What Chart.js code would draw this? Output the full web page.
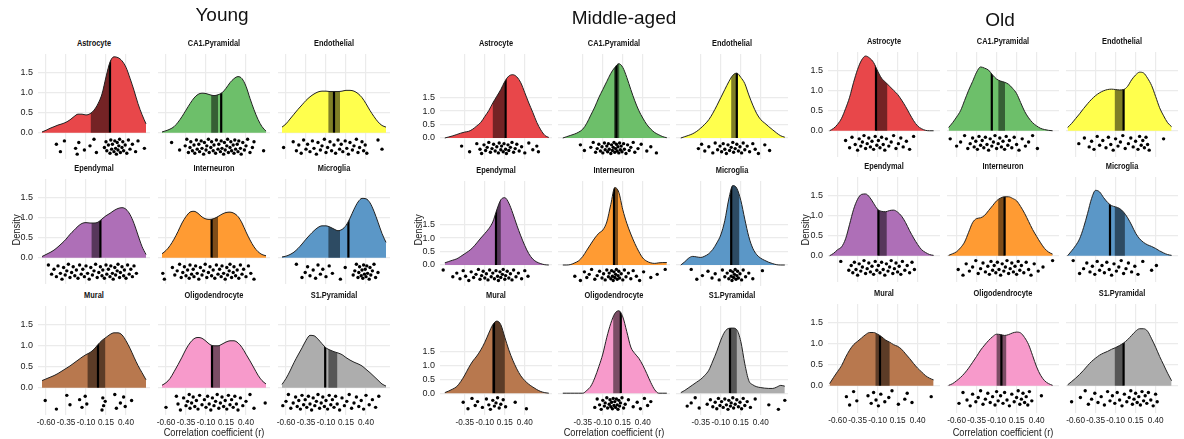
<!DOCTYPE html>
<html>
<head>
<meta charset="utf-8">
<script src="https://cdn.jsdelivr.net/npm/chart.js@4.4.0/dist/chart.umd.min.js"></script>
<style>
  body { margin: 0; background: #fff; width: 1184px; height: 439px; overflow: hidden; position: relative;
         font-family: 'Liberation Sans', Arial, sans-serif; }
  canvas { position: absolute; }
  .strip { position: absolute; width: 112px; text-align: center; line-height: 12px; color: #111;
           font: bold 9.5px 'Liberation Sans', Arial, sans-serif; transform: scaleX(0.78); }
  .group { position: absolute; font-size: 19px; line-height: 22px; color: #111; transform: translate(-50%, -50%); white-space: nowrap; }
  .xtitle { position: absolute; font-size: 11.5px; line-height: 12px; color: #1a1a1a; transform: translate(-50%, -50%) scaleX(0.8); white-space: nowrap; }
  .ytitle { position: absolute; font-size: 11px; line-height: 12px; color: #1a1a1a; transform: translate(-50%, -50%) rotate(-90deg) scaleX(0.85); white-space: nowrap; }
</style>
</head>
<body>
<script>
// ---- data ----
const GROUPS = ['Young', 'Middle-aged', 'Old'];
const CELL_TYPES = ['Astrocyte', 'CA1.Pyramidal', 'Endothelial', 'Ependymal', 'Interneuron',
                    'Microglia', 'Mural', 'Oligodendrocyte', 'S1.Pyramidal'];
const CELL_COLORS = ['#E8474A', '#6DBF6A', '#FFFF4D', '#AE6FB7', '#FF9B33',
                     '#5B97C7', '#B8784E', '#F79ACB', '#ADADAD'];

const Y_TICKS = [0, 0.5, 1.0, 1.5];
const X_TICKS_YOUNG = [-0.60, -0.35, -0.10, 0.15, 0.40];
const X_TICKS_MIDDLE = [-0.35, -0.10, 0.15, 0.40];
const X_TICKS_OLD = [-0.60, -0.35, -0.10, 0.15, 0.40];

// x positions where the density curves were read
const X_GRID_YOUNG = [-0.65, -0.60, -0.55, -0.50, -0.45, -0.40, -0.35, -0.30, -0.25, -0.20, -0.15, -0.10, -0.05,
                      0.00, 0.05, 0.10, 0.15, 0.20, 0.25, 0.30, 0.35, 0.40, 0.45, 0.50, 0.55, 0.60, 0.65];
const X_GRID_MIDDLE = [-0.60, -0.55, -0.50, -0.45, -0.40, -0.35, -0.30, -0.25, -0.20, -0.15, -0.10, -0.05, 0.00,
                       0.05, 0.10, 0.15, 0.20, 0.25, 0.30, 0.35, 0.40, 0.45, 0.50, 0.55, 0.60, 0.65, 0.70];
const X_GRID_OLD = [-0.70, -0.65, -0.60, -0.55, -0.50, -0.45, -0.40, -0.35, -0.30, -0.25, -0.20, -0.15, -0.10,
                    -0.05, 0.00, 0.05, 0.10, 0.15, 0.20, 0.25, 0.30, 0.35, 0.40, 0.45, 0.50, 0.55, 0.60];

const DENS_YOUNG = [
  [0.02,0.06,0.11,0.15,0.19,0.22,0.26,0.32,0.40,0.46,0.46,0.44,0.47,0.56,0.72,0.96,1.38,1.75,1.88,1.86,1.78,1.62,1.35,1.05,0.72,0.45,0.22],
  [0.02,0.05,0.09,0.15,0.26,0.40,0.56,0.72,0.86,0.95,0.98,0.97,0.94,0.92,0.94,0.99,1.10,1.24,1.34,1.39,1.34,1.15,0.85,0.57,0.33,0.15,0.04],
  [0.14,0.22,0.34,0.46,0.58,0.69,0.80,0.89,0.96,1.01,1.03,1.03,1.02,1.02,1.02,1.03,1.05,1.05,1.03,0.97,0.87,0.72,0.55,0.40,0.27,0.18,0.14],
  [0.03,0.08,0.13,0.19,0.27,0.36,0.46,0.58,0.68,0.78,0.85,0.87,0.86,0.86,0.88,0.96,1.04,1.10,1.17,1.22,1.24,1.20,1.07,0.85,0.56,0.28,0.08],
  [0.10,0.18,0.30,0.46,0.65,0.86,1.02,1.13,1.15,1.10,1.01,0.96,0.95,0.97,1.02,1.08,1.12,1.13,1.10,1.02,0.86,0.64,0.44,0.27,0.15,0.08,0.05],
  [0.02,0.04,0.08,0.14,0.23,0.34,0.46,0.57,0.67,0.75,0.79,0.79,0.76,0.71,0.67,0.70,0.80,0.98,1.20,1.38,1.47,1.46,1.36,1.15,0.88,0.60,0.38],
  [0.17,0.21,0.25,0.29,0.34,0.40,0.46,0.52,0.59,0.66,0.73,0.79,0.84,0.92,1.03,1.13,1.20,1.27,1.31,1.31,1.26,1.12,0.94,0.73,0.53,0.36,0.19],
  [0.06,0.12,0.22,0.38,0.55,0.73,0.92,1.07,1.17,1.20,1.18,1.11,1.03,1.00,1.00,1.04,1.09,1.12,1.12,1.07,0.96,0.80,0.64,0.47,0.30,0.17,0.09],
  [0.08,0.22,0.40,0.60,0.78,0.95,1.13,1.25,1.24,1.16,1.05,0.95,0.90,0.86,0.83,0.79,0.72,0.66,0.61,0.57,0.52,0.44,0.36,0.27,0.18,0.09,0.04]
];
const DENS_MIDDLE = [
  [0.00,0.04,0.08,0.13,0.18,0.22,0.25,0.33,0.45,0.58,0.80,1.02,1.30,1.55,1.80,2.10,2.30,2.35,2.27,2.05,1.68,1.30,0.95,0.58,0.30,0.10,0.02],
  [0.00,0.05,0.10,0.15,0.22,0.33,0.55,0.85,1.15,1.50,1.80,2.10,2.40,2.62,2.76,2.62,2.25,1.80,1.38,1.02,0.74,0.50,0.33,0.20,0.12,0.05,0.01],
  [0.00,0.05,0.10,0.16,0.25,0.37,0.51,0.68,0.92,1.20,1.50,1.80,2.09,2.33,2.41,2.25,2.02,1.60,1.22,0.90,0.68,0.55,0.42,0.30,0.18,0.08,0.03],
  [0.08,0.13,0.18,0.23,0.32,0.42,0.52,0.65,0.82,1.00,1.17,1.35,1.60,2.05,2.42,2.50,2.30,1.92,1.48,1.08,0.72,0.42,0.22,0.11,0.05,0.01,0.00],
  [0.00,0.00,0.02,0.08,0.16,0.32,0.55,0.78,1.00,1.18,1.30,1.60,2.25,2.88,2.70,2.05,1.55,1.15,0.80,0.50,0.26,0.14,0.08,0.06,0.08,0.09,0.09],
  [0.00,0.12,0.26,0.32,0.30,0.28,0.33,0.42,0.58,0.82,1.12,1.65,2.45,2.95,2.85,2.40,1.70,1.05,0.62,0.38,0.25,0.17,0.10,0.05,0.01,0.00,0.00],
  [0.02,0.08,0.15,0.24,0.42,0.65,0.92,1.15,1.33,1.55,1.82,2.15,2.45,2.58,2.45,2.00,1.55,1.18,0.87,0.62,0.45,0.32,0.22,0.13,0.06,0.02,0.00],
  [0.00,0.00,0.00,0.00,0.00,0.00,0.10,0.25,0.55,0.95,1.40,2.00,2.50,2.85,2.95,2.73,2.20,1.65,1.42,1.25,1.00,0.70,0.38,0.12,0.00,0.00,0.00],
  [0.02,0.10,0.20,0.30,0.40,0.50,0.64,0.82,1.15,1.50,1.90,2.20,2.32,2.33,2.27,1.85,1.05,0.45,0.30,0.23,0.20,0.18,0.17,0.17,0.22,0.28,0.25]
];
const DENS_OLD = [
  [0.00,0.06,0.16,0.31,0.55,0.83,1.20,1.52,1.75,1.85,1.80,1.69,1.48,1.30,1.20,1.10,1.00,0.90,0.76,0.60,0.42,0.25,0.12,0.05,0.01,0.00,0.00],
  [0.08,0.20,0.34,0.50,0.75,1.00,1.22,1.45,1.58,1.55,1.50,1.38,1.28,1.23,1.20,1.15,1.05,0.92,0.70,0.48,0.32,0.20,0.12,0.06,0.03,0.01,0.00],
  [0.08,0.18,0.30,0.42,0.55,0.67,0.78,0.87,0.94,0.99,1.02,1.03,1.02,1.01,1.02,1.10,1.26,1.38,1.45,1.43,1.30,1.12,0.85,0.57,0.37,0.20,0.10],
  [0.00,0.06,0.15,0.22,0.42,0.78,1.15,1.40,1.52,1.53,1.45,1.30,1.15,1.10,1.09,1.12,1.13,1.08,0.98,0.82,0.62,0.44,0.28,0.15,0.08,0.03,0.01],
  [0.01,0.05,0.10,0.20,0.34,0.58,0.82,0.92,0.94,1.00,1.12,1.24,1.36,1.43,1.46,1.46,1.42,1.36,1.22,1.05,0.85,0.65,0.48,0.32,0.18,0.09,0.04],
  [0.00,0.12,0.25,0.42,0.70,1.05,1.42,1.62,1.58,1.44,1.32,1.24,1.21,1.17,1.08,0.94,0.76,0.56,0.42,0.33,0.27,0.23,0.18,0.12,0.07,0.03,0.01],
  [0.05,0.20,0.34,0.48,0.68,0.85,0.98,1.06,1.14,1.22,1.27,1.27,1.23,1.17,1.09,1.04,0.98,0.94,0.87,0.76,0.65,0.53,0.42,0.33,0.24,0.18,0.14],
  [0.01,0.05,0.12,0.20,0.30,0.42,0.56,0.70,0.85,0.97,1.08,1.17,1.23,1.22,1.20,1.22,1.26,1.28,1.26,1.15,0.98,0.72,0.45,0.25,0.12,0.05,0.01],
  [0.02,0.10,0.18,0.27,0.37,0.48,0.58,0.66,0.73,0.78,0.82,0.87,0.91,0.96,1.02,1.10,1.20,1.30,1.36,1.36,1.30,1.12,0.92,0.70,0.50,0.30,0.12]
];

// vertical line (median) and darker interval band
const MEDIAN_YOUNG = [0.20, 0.09, 0.00, 0.08, -0.03, 0.18, 0.05, -0.025, -0.11];
const CI_LO_YOUNG = [-0.04, -0.035, -0.07, -0.03, -0.03, -0.07, -0.08, -0.02, -0.07];
const CI_HI_YOUNG = [0.19, 0.05, 0.075, 0.075, 0.05, 0.075, 0.14, 0.075, 0.04];
const MEDIAN_MIDDLE = [0.16, 0.07, 0.10, 0.04, 0.04, 0.03, 0.015, 0.125, 0.015];
const CI_LO_MIDDLE = [0.00, 0.04, 0.03, 0.04, 0.03, 0.03, -0.01, 0.03, 0.015];
const CI_HI_MIDDLE = [0.15, 0.105, 0.11, 0.10, 0.09, 0.13, 0.15, 0.125, 0.10];
const MEDIAN_OLD = [-0.12, -0.16, 0.00, -0.09, 0.00, -0.17, -0.07, -0.04, 0.00];
const CI_LO_OLD = [-0.124, -0.078, -0.11, -0.09, -0.08, -0.11, -0.126, -0.10, -0.11];
const CI_HI_OLD = [0.02, 0.005, 0.00, 0.014, 0.00, 0.016, 0.05, 0.02, 0.00];

// individual correlation coefficients (dots under each curve)
const POINTS_YOUNG = [
  [-0.47,-0.42,-0.37,-0.23,-0.21,-0.19,-0.12,-0.05,0.0,0.03,0.13,0.15,0.16,0.18,0.2,0.21,0.22,0.23,0.25,0.26,0.27,0.28,0.29,0.3,0.31,0.32,0.33,0.35,0.36,0.37,0.39,0.41,0.43,0.45,0.48,0.52,0.55,0.63],
  [-0.53,-0.43,-0.36,-0.34,-0.32,-0.3,-0.29,-0.27,-0.25,-0.24,-0.22,-0.21,-0.19,-0.18,-0.16,-0.15,-0.13,-0.12,-0.1,-0.09,-0.07,-0.06,-0.04,-0.03,-0.01,0.0,0.02,0.03,0.05,0.06,0.08,0.09,0.1,0.12,0.13,0.14,0.16,0.17,0.18,0.2,0.21,0.22,0.24,0.25,0.26,0.27,0.29,0.3,0.31,0.33,0.34,0.36,0.38,0.4,0.42,0.45,0.48,0.5,0.62],
  [-0.63,-0.51,-0.47,-0.44,-0.41,-0.38,-0.35,-0.33,-0.3,-0.27,-0.25,-0.22,-0.2,-0.17,-0.15,-0.12,-0.1,-0.08,-0.05,-0.03,0.0,0.02,0.05,0.07,0.09,0.11,0.14,0.16,0.18,0.2,0.23,0.25,0.28,0.3,0.32,0.35,0.37,0.39,0.41,0.55,0.6],
  [-0.57,-0.53,-0.5,-0.47,-0.45,-0.42,-0.4,-0.38,-0.36,-0.34,-0.32,-0.3,-0.28,-0.26,-0.24,-0.22,-0.2,-0.18,-0.16,-0.14,-0.12,-0.1,-0.08,-0.06,-0.04,-0.02,0.0,0.02,0.04,0.06,0.08,0.1,0.11,0.13,0.15,0.16,0.18,0.2,0.21,0.23,0.24,0.26,0.27,0.29,0.3,0.32,0.33,0.35,0.37,0.38,0.4,0.42,0.44,0.46,0.48,0.5,0.53],
  [-0.64,-0.62,-0.52,-0.49,-0.46,-0.43,-0.41,-0.39,-0.37,-0.35,-0.33,-0.31,-0.3,-0.28,-0.26,-0.25,-0.23,-0.21,-0.19,-0.17,-0.15,-0.13,-0.11,-0.09,-0.07,-0.05,-0.03,-0.01,0.01,0.03,0.05,0.07,0.09,0.1,0.12,0.14,0.16,0.17,0.19,0.2,0.22,0.24,0.25,0.27,0.29,0.31,0.33,0.35,0.37,0.4,0.43,0.46,0.5],
  [-0.47,-0.4,-0.36,-0.33,-0.3,-0.26,-0.23,-0.2,-0.17,-0.14,-0.1,-0.06,-0.02,0.08,0.14,0.24,0.26,0.28,0.3,0.31,0.32,0.34,0.35,0.36,0.37,0.38,0.39,0.4,0.41,0.42,0.44,0.45,0.46,0.48,0.5,0.52,0.55],
  [-0.61,-0.47,-0.34,-0.3,-0.18,-0.15,-0.11,-0.09,0.1,0.11,0.12,0.14,0.26,0.28,0.33,0.37,0.39,0.47],
  [-0.6,-0.47,-0.45,-0.42,-0.38,-0.35,-0.33,-0.31,-0.3,-0.28,-0.26,-0.24,-0.22,-0.2,-0.18,-0.15,-0.12,-0.1,-0.08,-0.06,-0.04,-0.02,0.0,0.02,0.04,0.06,0.08,0.1,0.12,0.14,0.16,0.18,0.2,0.22,0.24,0.26,0.28,0.3,0.33,0.36,0.4,0.45,0.5,0.64],
  [-0.64,-0.6,-0.57,-0.54,-0.51,-0.48,-0.46,-0.44,-0.42,-0.4,-0.38,-0.36,-0.34,-0.32,-0.3,-0.28,-0.26,-0.24,-0.22,-0.2,-0.18,-0.16,-0.14,-0.12,-0.1,-0.08,-0.06,-0.04,-0.02,0.0,0.02,0.04,0.07,0.1,0.13,0.16,0.19,0.22,0.25,0.28,0.31,0.34,0.37,0.4,0.44,0.48,0.52,0.56]
];
const POINTS_MIDDLE = [
  [-0.39,-0.29,-0.2,-0.16,-0.14,-0.11,-0.09,-0.07,-0.05,-0.03,-0.01,0.01,0.03,0.05,0.07,0.08,0.1,0.11,0.13,0.14,0.16,0.17,0.19,0.2,0.22,0.24,0.26,0.28,0.3,0.33,0.36,0.4,0.45,0.5,0.55,0.57],
  [-0.38,-0.33,-0.25,-0.22,-0.19,-0.17,-0.15,-0.13,-0.11,-0.1,-0.08,-0.07,-0.05,-0.04,-0.03,-0.02,0.0,0.01,0.02,0.03,0.04,0.05,0.06,0.07,0.08,0.09,0.1,0.11,0.12,0.13,0.14,0.16,0.17,0.19,0.21,0.23,0.25,0.28,0.3,0.34,0.38,0.45,0.5,0.57],
  [-0.38,-0.34,-0.3,-0.25,-0.2,-0.17,-0.14,-0.11,-0.09,-0.07,-0.05,-0.03,-0.01,0.01,0.03,0.05,0.06,0.08,0.1,0.12,0.14,0.16,0.18,0.2,0.23,0.26,0.3,0.33,0.37,0.45,0.51],
  [-0.62,-0.5,-0.45,-0.41,-0.37,-0.34,-0.3,-0.27,-0.24,-0.21,-0.18,-0.16,-0.14,-0.12,-0.1,-0.08,-0.06,-0.04,-0.02,0.0,0.02,0.04,0.06,0.07,0.09,0.1,0.12,0.13,0.15,0.16,0.18,0.2,0.22,0.24,0.26,0.29,0.32,0.36,0.4,0.44],
  [-0.45,-0.38,-0.33,-0.3,-0.27,-0.24,-0.2,-0.17,-0.14,-0.11,-0.09,-0.07,-0.05,-0.03,-0.02,0.0,0.01,0.02,0.03,0.04,0.05,0.06,0.07,0.08,0.09,0.1,0.11,0.13,0.15,0.17,0.19,0.22,0.25,0.28,0.32,0.36,0.41,0.5,0.58,0.68],
  [-0.47,-0.4,-0.33,-0.26,-0.21,-0.17,-0.12,-0.08,-0.05,-0.02,0.0,0.02,0.03,0.04,0.05,0.06,0.07,0.08,0.09,0.1,0.11,0.12,0.14,0.16,0.18,0.21,0.25,0.3,0.42],
  [-0.37,-0.31,-0.26,-0.22,-0.19,-0.13,-0.08,-0.05,-0.03,0.0,0.02,0.04,0.06,0.08,0.1,0.13,0.16,0.28,0.42],
  [-0.2,-0.17,-0.14,-0.12,-0.1,-0.08,-0.07,-0.05,-0.04,-0.02,-0.01,0.0,0.01,0.02,0.03,0.04,0.05,0.06,0.07,0.08,0.09,0.1,0.11,0.12,0.14,0.16,0.18,0.22,0.28,0.33,0.37,0.42,0.46,0.5],
  [-0.52,-0.47,-0.42,-0.37,-0.27,-0.23,-0.2,-0.17,-0.15,-0.13,-0.11,-0.09,-0.07,-0.05,-0.03,-0.01,0.0,0.02,0.03,0.05,0.06,0.08,0.1,0.12,0.14,0.16,0.18,0.2,0.23,0.27,0.33,0.5,0.62,0.7]
];
const POINTS_OLD = [
  [-0.5,-0.45,-0.42,-0.38,-0.35,-0.33,-0.31,-0.29,-0.27,-0.25,-0.23,-0.21,-0.19,-0.17,-0.15,-0.13,-0.11,-0.09,-0.07,-0.05,-0.03,-0.01,0.01,0.04,0.07,0.1,0.13,0.16,0.19,0.22,0.26,0.3,0.35],
  [-0.68,-0.6,-0.55,-0.5,-0.46,-0.43,-0.4,-0.38,-0.36,-0.34,-0.32,-0.3,-0.28,-0.26,-0.24,-0.22,-0.2,-0.18,-0.16,-0.14,-0.12,-0.1,-0.08,-0.06,-0.04,-0.02,0.0,0.02,0.04,0.06,0.09,0.12,0.15,0.18,0.22,0.26,0.3,0.35,0.41],
  [-0.56,-0.49,-0.43,-0.4,-0.37,-0.33,-0.3,-0.26,-0.22,-0.19,-0.16,-0.13,-0.1,-0.07,-0.04,-0.01,0.02,0.06,0.09,0.12,0.15,0.18,0.2,0.22,0.24,0.26,0.28,0.3,0.32,0.5],
  [-0.56,-0.46,-0.43,-0.41,-0.39,-0.37,-0.35,-0.33,-0.31,-0.29,-0.27,-0.25,-0.23,-0.21,-0.19,-0.17,-0.15,-0.13,-0.11,-0.09,-0.07,-0.05,-0.03,-0.01,0.01,0.03,0.05,0.07,0.09,0.11,0.13,0.15,0.17,0.19,0.21,0.24,0.27,0.3,0.33,0.36],
  [-0.58,-0.52,-0.48,-0.44,-0.4,-0.36,-0.33,-0.3,-0.27,-0.24,-0.21,-0.19,-0.17,-0.15,-0.13,-0.11,-0.09,-0.07,-0.05,-0.03,-0.01,0.01,0.03,0.05,0.07,0.09,0.11,0.13,0.15,0.17,0.19,0.21,0.24,0.27,0.3,0.33,0.37,0.42,0.48,0.6],
  [-0.63,-0.55,-0.5,-0.46,-0.42,-0.39,-0.36,-0.33,-0.3,-0.27,-0.24,-0.21,-0.18,-0.15,-0.12,-0.09,-0.06,-0.03,0.0,0.03,0.06,0.1,0.14,0.18,0.24,0.35,0.41],
  [-0.49,-0.45,-0.4,-0.36,-0.22,-0.18,-0.15,-0.12,-0.09,-0.06,-0.01,0.04,0.08,0.16,0.24,0.27,0.33,0.57],
  [-0.57,-0.52,-0.47,-0.43,-0.4,-0.36,-0.33,-0.3,-0.27,-0.24,-0.21,-0.18,-0.15,-0.12,-0.1,-0.08,-0.05,-0.02,0.0,0.03,0.06,0.09,0.12,0.15,0.17,0.19,0.21,0.23,0.25,0.27,0.29,0.31,0.34,0.46],
  [-0.65,-0.54,-0.48,-0.44,-0.4,-0.36,-0.32,-0.28,-0.24,-0.2,-0.17,-0.14,-0.11,-0.08,-0.05,-0.02,0.01,0.04,0.07,0.09,0.11,0.13,0.15,0.17,0.19,0.21,0.23,0.25,0.27,0.29,0.31,0.34,0.37,0.4,0.42]
];

// vertical jitter of the dots (fraction of the dot strip)
const JITTER = [0.35, 0.8, 0.15, 0.6, 0.95, 0.25, 0.7, 0.45, 0.05, 0.85, 0.55, 0.2, 0.75, 0.4, 0.9, 0.1, 0.65];

// ---- layout ----
const PANEL_W = 112, PANEL_H = 113, PAD = 10, Y_AXIS_W = 30, X_AXIS_H = 16;
const LAYOUT = [
  { cols: [38, 158, 278], tops: [50, 175, 302], xMin: -0.70, xMax: 0.70, yMin: -0.65, yMax: 1.95,
    dotTop: -0.14, dotBottom: -0.55, titleX: 222, titleY: 15, densX: 15.5 },
  { cols: [440, 558, 676], tops: [50, 177, 302], xMin: -0.66, xMax: 0.74, yMin: -0.78, yMax: 3.12,
    dotTop: -0.14, dotBottom: -0.60, titleX: 624, titleY: 18, densX: 418 },
  { cols: [828, 947, 1066], tops: [48, 173, 300], xMin: -0.72, xMax: 0.68, yMin: -0.65, yMax: 1.95,
    dotTop: -0.10, dotBottom: -0.50, titleX: 1000, titleY: 20, densX: 805 }
];
const GROUP_DATA = [
  { grid: X_GRID_YOUNG, dens: DENS_YOUNG, med: MEDIAN_YOUNG, lo: CI_LO_YOUNG, hi: CI_HI_YOUNG, pts: POINTS_YOUNG, ticks: X_TICKS_YOUNG },
  { grid: X_GRID_MIDDLE, dens: DENS_MIDDLE, med: MEDIAN_MIDDLE, lo: CI_LO_MIDDLE, hi: CI_HI_MIDDLE, pts: POINTS_MIDDLE, ticks: X_TICKS_MIDDLE },
  { grid: X_GRID_OLD, dens: DENS_OLD, med: MEDIAN_OLD, lo: CI_LO_OLD, hi: CI_HI_OLD, pts: POINTS_OLD, ticks: X_TICKS_OLD }
];

Chart.defaults.font.family = "'Liberation Sans', Arial, sans-serif";
Chart.defaults.font.size = 9;

// Clip the interval band to [lo, hi] and the median line to the area under the curve.
// The clip is set after the previous dataset is drawn so the filler's area is clipped too.
const curveClip = {
  id: 'curveClip',
  afterDatasetDraw(chart, args) {
    const ctx = chart.ctx;
    if (chart.$clipped) { ctx.restore(); chart.$clipped = false; }
    const metas = chart.getSortedVisibleDatasetMetas();
    const pos = metas.findIndex(m => m.index === args.index);
    if (pos <= 0) return;
    const ds = chart.data.datasets[metas[pos - 1].index];
    if (!ds.clipTo) return;
    const area = chart.chartArea, xs = chart.scales.x, ys = chart.scales.y;
    ctx.save();
    ctx.beginPath();
    if (ds.clipTo === 'band') {
      const l = xs.getPixelForValue(ds.lo), r = xs.getPixelForValue(ds.hi);
      ctx.rect(l, area.top, r - l, area.bottom - area.top);
    } else {
      const curve = chart.getDatasetMeta(0).dataset;
      const pts = curve.points;
      const y0 = ys.getPixelForValue(0);
      curve.path(ctx);
      ctx.lineTo(pts[pts.length - 1].x, y0);
      ctx.lineTo(pts[0].x, y0);
      ctx.closePath();
    }
    ctx.clip();
    chart.$clipped = true;
  }
};

function addText(cls, text, x, y) {
  const d = document.createElement('div');
  d.className = cls;
  d.textContent = text;
  d.style.left = x + 'px';
  d.style.top = y + 'px';
  document.body.appendChild(d);
}

function makePanel(g, r, c) {
  const L = LAYOUT[g], D = GROUP_DATA[g];
  const k = r * 3 + c;
  const leftCol = c === 0, bottomRow = r === 2;
  const axW = leftCol ? Y_AXIS_W : 0;
  const axH = bottomRow ? X_AXIS_H : 0;
  const w = PANEL_W + axW + 2 * PAD, h = PANEL_H + axH;

  const canvas = document.createElement('canvas');
  canvas.width = w; canvas.height = h;
  canvas.style.left = (L.cols[c] - axW - PAD) + 'px';
  canvas.style.top = L.tops[r] + 'px';
  canvas.style.width = w + 'px'; canvas.style.height = h + 'px';
  document.body.appendChild(canvas);

  const curve = D.grid.map((x, i) => ({ x: x, y: D.dens[k][i] }));
  const dots = D.pts[k].map((x, i) => ({
    x: x,
    y: L.dotTop + (L.dotBottom - L.dotTop) * JITTER[(i + k * 5) % JITTER.length]
  }));

  new Chart(canvas, {
    type: 'line',
    data: {
      datasets: [
        { data: curve, fill: 'origin', backgroundColor: CELL_COLORS[k], borderWidth: 0,
          pointRadius: 0, cubicInterpolationMode: 'monotone', order: 5 },
        { data: curve, fill: 'origin', backgroundColor: 'rgba(0,0,0,0.5)', borderWidth: 0,
          pointRadius: 0, cubicInterpolationMode: 'monotone', order: 4,
          clipTo: 'band', lo: D.lo[k], hi: D.hi[k] },
        { data: [{ x: D.med[k], y: 0 }, { x: D.med[k], y: L.yMax }], borderColor: '#000', borderWidth: 2.2,
          pointRadius: 0, tension: 0, fill: false, order: 3, clipTo: 'curve' },
        { data: curve, fill: false, borderColor: '#222', borderWidth: 1,
          pointRadius: 0, cubicInterpolationMode: 'monotone', order: 2 },
        { data: dots, showLine: false, pointRadius: 1.7, pointBackgroundColor: '#000',
          pointBorderWidth: 0, order: 1 }
      ]
    },
    options: {
      responsive: false,
      animation: false,
      events: [],
      layout: { padding: { left: PAD, right: PAD, top: 0, bottom: 0 } },
      plugins: { legend: { display: false }, tooltip: { enabled: false } },
      scales: {
        x: {
          type: 'linear', min: L.xMin, max: L.xMax,
          afterBuildTicks: s => { s.ticks = D.ticks.map(v => ({ value: v })); },
          afterFit: s => { s.height = axH; s.paddingLeft = 0; s.paddingRight = 0; },
          grid: { color: '#EBEBEB', lineWidth: 1.2, drawTicks: false },
          border: { display: false },
          ticks: { display: bottomRow, padding: 3, color: '#1a1a1a', maxRotation: 0, autoSkip: false,
                   font: { size: 8.2 }, callback: v => v.toFixed(2) }
        },
        y: {
          type: 'linear', min: L.yMin, max: L.yMax,
          afterBuildTicks: s => { s.ticks = Y_TICKS.map(v => ({ value: v })); },
          afterFit: s => { s.width = axW; s.paddingTop = 0; s.paddingBottom = 0; },
          grid: { color: '#EBEBEB', lineWidth: 1.2, drawTicks: false },
          border: { display: false },
          ticks: { display: leftCol, padding: 5, color: '#1a1a1a', autoSkip: false,
                   font: { size: 9 }, callback: v => v.toFixed(1) }
        }
      }
    },
    plugins: [curveClip]
  });

  addText('strip', CELL_TYPES[k], L.cols[c], L.tops[r] - 13);
}

GROUPS.forEach((name, g) => {
  const L = LAYOUT[g];
  for (let r = 0; r < 3; r++) for (let c = 0; c < 3; c++) makePanel(g, r, c);
  addText('group', name, L.titleX, L.titleY);
  addText('ytitle', 'Density', L.densX, 230);
  addText('xtitle', 'Correlation coefficient (r)', L.cols[1] + PANEL_W / 2, 432);
});
</script>
</body>
</html>
